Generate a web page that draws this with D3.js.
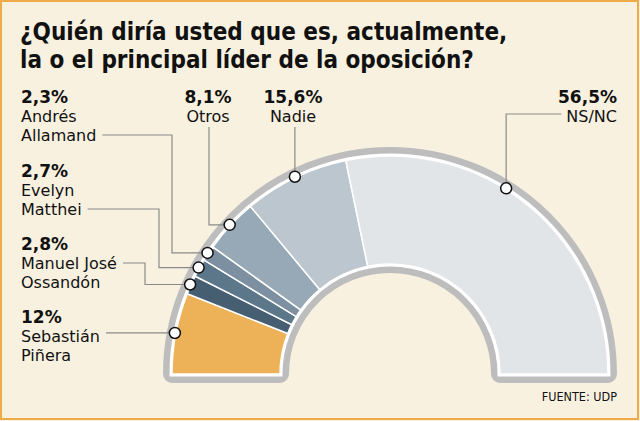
<!DOCTYPE html>
<html>
<head>
<meta charset="utf-8">
<script src="https://cdn.jsdelivr.net/npm/d3@7"></script>
<style>
  body { margin: 0; background: #f9f1e0; }
  svg { display: block; }
</style>
</head>
<body>
<svg></svg>
<script>
// datos de la encuesta (de izquierda a derecha en el semicirculo)
let categories = ['Sebastián Piñera', 'Manuel José Ossandón', 'Evelyn Matthei', 'Andrés Allamand', 'Otros', 'Nadie', 'NS/NC']
let values = [12, 2.8, 2.7, 2.3, 8.1, 15.6, 56.5]
let valueLabels = ['12%', '2,8%', '2,7%', '2,3%', '8,1%', '15,6%', '56,5%']
let nameLines = [['Sebastián', 'Piñera'], ['Manuel José', 'Ossandón'], ['Evelyn', 'Matthei'], ['Andrés', 'Allamand'], ['Otros'], ['Nadie'], ['NS/NC']]
let colors = ['#edb257', '#465e72', '#5d778a', '#7c90a1', '#97a8b6', '#bcc6cf', '#e2e5e8']

let titleLines = ['¿Quién diría usted que es, actualmente,', 'la o el principal líder de la oposición?']
let source = 'FUENTE: UDP'

let width = 640
let height = 421
let cx = 390
let cy = 374
let innerR = 110
let outerR = 218
let dotR = 219

// posicion de cada etiqueta y forma de su linea guia
let labelLayout = [
  { x: 21, y: 323, anchor: 'start', line: 1, kind: 'straight' },
  { x: 21, y: 250, anchor: 'start', line: 1, kind: 'elbow', elbowX: 145 },
  { x: 21, y: 177, anchor: 'start', line: 2, kind: 'elbow', elbowX: 159 },
  { x: 21, y: 103, anchor: 'start', line: 2, kind: 'elbow', elbowX: 172 },
  { x: 208, y: 103, anchor: 'middle', kind: 'up-left', elbowX: 209, topY: 127 },
  { x: 293, y: 103, anchor: 'middle', kind: 'up', topY: 127 },
  { x: 617, y: 103, anchor: 'end', line: 1, kind: 'up-right', topY: 114 }
]
// donde cae el punto dentro de su tajada (0..1)
let dotFrac = [0.5, 0.5, 0.5, 0.5, 0.5, 0.5, 0.43]

let lineHeight = 19

let svg = d3.select('svg')

let drawCanvas = () => {
  svg.attr('width', width)
     .attr('height', height)

  svg.append('rect')
     .attr('x', 1)
     .attr('y', 1)
     .attr('width', width - 3)
     .attr('height', height - 3)
     .attr('fill', '#f9f1e0')
     .attr('stroke', '#eeab48')
     .attr('stroke-width', 2)
}

let drawTitle = () => {
  svg.selectAll('.title')
     .data(titleLines)
     .enter()
     .append('text')
     .attr('class', 'title')
     .attr('x', 20)
     .attr('y', (d, i) => 40 + i * 28)
     .attr('font-family', 'DejaVu Sans Condensed')
     .attr('font-weight', 'bold')
     .attr('font-size', 24)
     .attr('fill', '#111')
     .text(d => d)

  svg.append('text')
     .attr('x', 617)
     .attr('y', 401)
     .attr('text-anchor', 'end')
     .attr('font-family', 'DejaVu Sans Condensed')
     .attr('font-size', 12.5)
     .attr('fill', '#111')
     .text(source)
}

let pie = d3.pie()
            .sort(null)
            .startAngle(-Math.PI / 2)
            .endAngle(Math.PI / 2)

let arcs = pie(values)

let arc = d3.arc()
            .innerRadius(innerR)
            .outerRadius(outerR)

let dotPos = (d, i) => {
  let a = d.startAngle + (d.endAngle - d.startAngle) * dotFrac[i]
  return [cx + dotR * Math.sin(a), cy - dotR * Math.cos(a)]
}

let drawDonut = () => {
  let g = svg.append('g')
             .attr('transform', `translate(${cx}, ${cy})`)

  let whole = arc({ startAngle: -Math.PI / 2, endAngle: Math.PI / 2 })

  // marco gris y filete blanco
  g.append('path')
   .attr('d', whole)
   .attr('fill', '#bdbdbd')
   .attr('stroke', '#bdbdbd')
   .attr('stroke-width', 18)
   .attr('stroke-linejoin', 'round')

  g.append('path')
   .attr('d', whole)
   .attr('fill', '#fff')
   .attr('stroke', '#fff')
   .attr('stroke-width', 5)

  g.selectAll('.slice')
   .data(arcs)
   .enter()
   .append('path')
   .attr('class', 'slice')
   .attr('d', arc)
   .attr('fill', (d, i) => colors[i])
   .attr('stroke', '#fff')
   .attr('stroke-width', 1.5)
}

let drawLabels = () => {
  let leaders = svg.append('g')
  let dots = svg.append('g')
  let texts = svg.append('g')

  arcs.forEach((d, i) => {
    let lay = labelLayout[i]
    let t = texts.append('text')
                 .attr('x', lay.x)
                 .attr('y', lay.y)
                 .attr('text-anchor', lay.anchor)
                 .attr('font-family', 'DejaVu Sans')
                 .attr('fill', '#111')

    t.append('tspan')
     .attr('x', lay.x)
     .attr('font-weight', 'bold')
     .attr('font-size', 17)
     .text(valueLabels[i])

    let spans = nameLines[i].map((s, k) => {
      return t.append('tspan')
              .attr('x', lay.x)
              .attr('dy', lineHeight)
              .attr('font-size', 16)
              .text(s)
    })

    let [px, py] = dotPos(d, i)
    let pts = []

    if (lay.kind === 'straight' || lay.kind === 'elbow') {
      let span = spans[lay.line - 1].node()
      let endX = lay.x + span.getComputedTextLength() + 6
      let ly = lay.y + lay.line * lineHeight - 6
      if (lay.kind === 'straight') {
        pts = [[endX, py], [px, py]]
      } else {
        pts = [[endX, ly], [lay.elbowX, ly], [lay.elbowX, py], [px, py]]
      }
    } else if (lay.kind === 'up-left') {
      pts = [[px, py], [lay.elbowX, py], [lay.elbowX, lay.topY]]
    } else if (lay.kind === 'up') {
      pts = [[px, py], [px, lay.topY]]
    } else {
      let span = spans[0].node()
      let startX = lay.x - span.getComputedTextLength() - 5
      pts = [[px, py], [px, lay.topY], [startX, lay.topY]]
    }

    leaders.append('path')
           .attr('d', d3.line()(pts))
           .attr('fill', 'none')
           .attr('stroke', '#8a8a8a')
           .attr('stroke-width', 1.2)

    dots.append('circle')
        .attr('cx', px)
        .attr('cy', py)
        .attr('r', 5.5)
        .attr('fill', '#fff')
        .attr('stroke', '#111')
        .attr('stroke-width', 1.5)
  })
}

drawCanvas()
drawTitle()
drawDonut()
drawLabels()
</script>
</body>
</html>
